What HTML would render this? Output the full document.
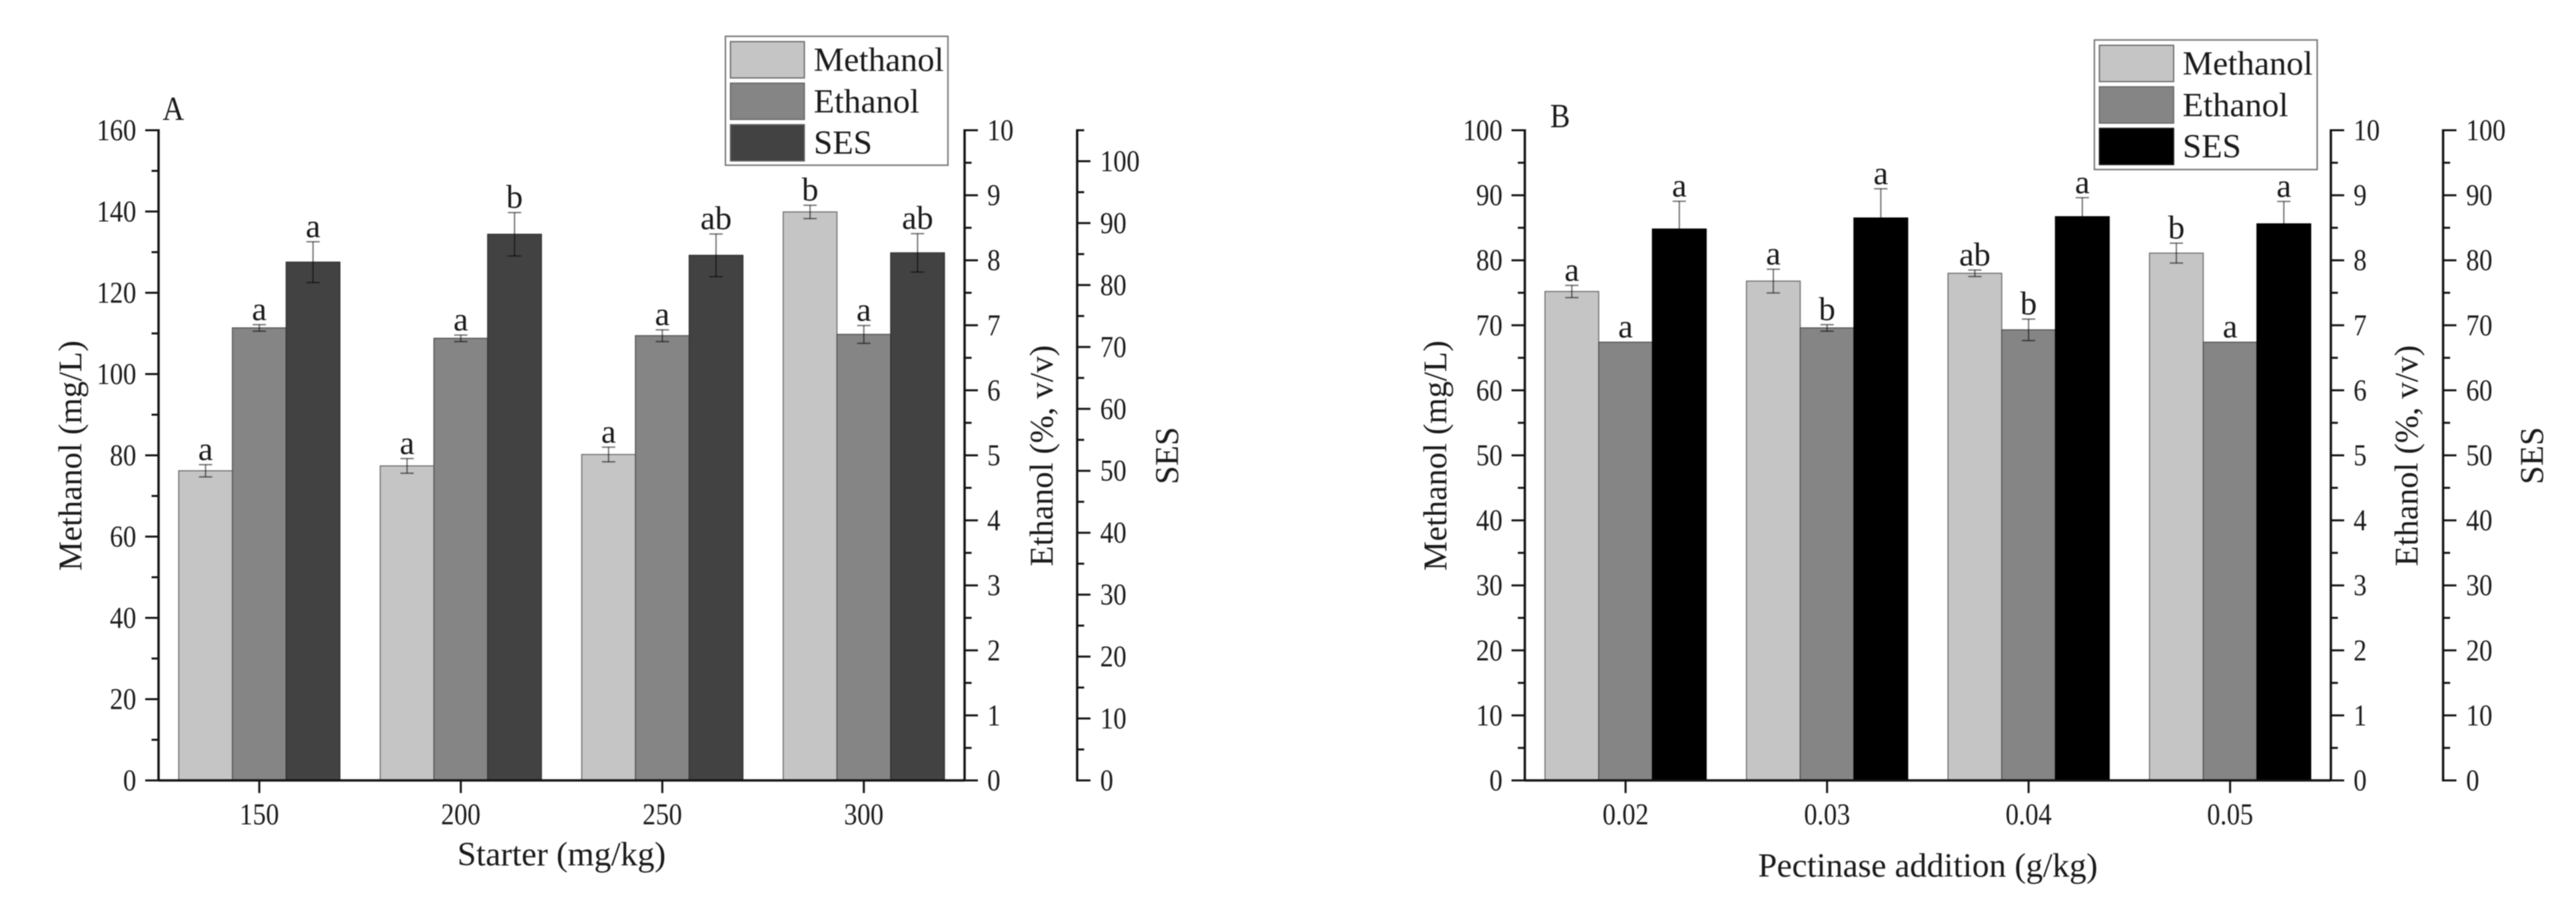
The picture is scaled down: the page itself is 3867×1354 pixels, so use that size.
<!DOCTYPE html>
<html>
<head>
<meta charset="utf-8">
<title>Methanol, Ethanol and SES charts</title>
<style>
html,body{margin:0;padding:0;background:#fff;}
svg{display:block;filter:blur(0.7px);}
text{font-family:"Liberation Serif",serif;fill:#1a1a1a;}
</style>
</head>
<body>
<svg id="figure" xmlns="http://www.w3.org/2000/svg" width="3867" height="1354" viewBox="0 0 3867 1354"></svg>
<script>
// Panel A data
const categoriesA = ['150','200','250','300'];
const methanolA = [76.2,77.4,80.2,139.9];
const methanolErrA = [1.5,1.8,1.8,1.64];
const ethanolA = [6.96,6.80,6.84,6.86];
const ethanolErrA = [0.05,0.05,0.09,0.137];
const sesA = [83.7,88.2,84.8,85.2];
const sesErrA = [3.3,3.5,3.45,3.1];
const methanolLettersA = ['a','a','a','b'];
const ethanolLettersA = ['a','a','a','a'];
const sesLettersA = ['a','b','ab','ab'];
const methanolTicksA = [0,20,40,60,80,100,120,140,160];
const ethanolTicksA = [0,1,2,3,4,5,6,7,8,9,10];
const sesTicksA = [0,10,20,30,40,50,60,70,80,90,100];

// Panel B data
const categoriesB = ['0.02','0.03','0.04','0.05'];
const methanolB = [75.2,76.8,78.0,81.1];
const methanolErrB = [0.94,1.83,0.5,1.53];
const ethanolB = [6.74,6.96,6.93,6.74];
const ethanolErrB = [0,0.05,0.165,0];
const sesB = [84.8,86.5,86.7,85.6];
const sesErrB = [4.28,4.5,2.92,3.45];
const methanolLettersB = ['a','a','ab','b'];
const ethanolLettersB = ['a','b','b','a'];
const sesLettersB = ['a','a','a','a'];
const methanolTicksB = [0,10,20,30,40,50,60,70,80,90,100];
const ethanolTicksB = [0,1,2,3,4,5,6,7,8,9,10];
const sesTicksB = [0,10,20,30,40,50,60,70,80,90,100];

const seriesNames = ['Methanol','Ethanol','SES'];

const NS = 'http://www.w3.org/2000/svg';
const svg = document.getElementById('figure');
const TOP = 195.5, BOTTOM = 1171.5;

function mk(tag, parent, attrs){
  const e = document.createElementNS(NS, tag);
  for (const k in attrs) e.setAttribute(k, attrs[k]);
  parent.appendChild(e);
  return e;
}
function txt(parent, str, x, y, size, anchor, sx, rot){
  const e = mk('text', parent, {
    'font-size': size,
    'text-anchor': anchor,
    transform: 'translate(' + x + ' ' + y + ')' + (rot ? ' rotate(' + rot + ')' : '') + (sx !== 1 ? ' scale(' + sx + ' 1)' : '')
  });
  e.textContent = str;
  return e;
}
function yScale(max){
  return function(v){ return BOTTOM - (v / max) * (BOTTOM - TOP); };
}
function line(parent, x1, y1, x2, y2, color, w){
  return mk('line', parent, {x1:x1, y1:y1, x2:x2, y2:y2, stroke:color, 'stroke-width':w});
}

function drawAxis(parent, label, x, max, ticks, minorStep, side, labelX, titleX, title){
  const y = yScale(max);
  const g = mk('g', parent, {});
  
  
  const spine = line(g, x, TOP - 1.5, x, BOTTOM + 1.5, '#111', 3.5);
  
  
  const count = Math.round(max / minorStep);
  for (let i = 0; i <= count; i++){
    const v = i * minorStep;
    const isMajor = ticks.indexOf(+v.toFixed(4)) >= 0;
    const len = isMajor ? 20 : 10.5;
    const t = line(g, x, y(v), x + side * len, y(v), '#111', 3);
    
    
  }
  ticks.forEach(function(v){
    const lab = txt(g, String(v), labelX, y(v) + 15, 45, side < 0 ? 'end' : 'start', 0.88, 0);
    
    
  });
  const tt = txt(g, title, titleX, 684, 50, 'middle', 1, -90);
  
  
}

function drawChart(p){
  const root = mk('g', svg, {});
  
  

  const band = (p.right - p.left) / p.categories.length;
  const barW = band * 0.8 / 3;
  const xCenter = function(i){ return p.left + band * (i + 0.5); };
  const scales = [yScale(p.methMax), yScale(p.ethMax), yScale(p.sesMax)];
  const fills = ['#c5c5c5', '#858585', p.sesFill];
  const edges = ['#6e6e6e', '#555', p.sesFill === '#000' ? '#000' : '#333'];

  p.categories.forEach(function(cat, i){
    const group = mk('g', root, {});
    
    
    p.values.forEach(function(vals, s){
      const bx = xCenter(i) + (s - 1.5) * barW;
      const top = scales[s](vals[i]);
      const bar = mk('rect', group, {x:bx, y:top, width:barW, height:BOTTOM - top, fill:fills[s], stroke:edges[s], 'stroke-width':1.6});
      
      
    });
    p.values.forEach(function(vals, s){
      const cx = xCenter(i) + (s - 1) * barW;
      const hi = scales[s](vals[i] + p.errors[s][i]);
      const lo = scales[s](vals[i] - p.errors[s][i]);
      if (p.errors[s][i] > 0){
        const stem = line(group, cx, hi, cx, lo, 'rgba(0,0,0,0.55)', 2);
        
        
        const capT = line(group, cx - 10, hi, cx + 10, hi, 'rgba(0,0,0,0.55)', 2);
        
        
        const capB = line(group, cx - 10, lo, cx + 10, lo, 'rgba(0,0,0,0.55)', 2);
        
        
      }
      const letter = txt(group, p.letters[s][i], cx, hi - 7, 50, 'middle', 1, 0);
      
      
    });
    const tick = line(group, xCenter(i), BOTTOM, xCenter(i), BOTTOM + 19, '#111', 3);
    
    
    const lab = txt(group, cat, xCenter(i), 1237.5, 45, 'middle', 0.88, 0);
    
    
  });

  const baseline = line(root, p.left, BOTTOM, p.right, BOTTOM, '#111', 3.5);
  
  

  const xt = txt(root, p.xTitle, p.xTitleX, p.xTitleY, 51, 'middle', 1, 0);
  
  

  const letterMark = txt(root, p.panel, p.panelX, p.panelY, 51, 'start', 0.88, 0);
  
  

  drawAxis(root, 'methanol', p.left, p.methMax, p.methTicks, p.methMinor, -1, p.left - 33.5, p.methTitleX, 'Methanol (mg/L)');
  drawAxis(root, 'ethanol', p.right, p.ethMax, p.ethTicks, 0.5, 1, p.right + 34, p.ethTitleX, 'Ethanol (%, v/v)');
  drawAxis(root, 'ses', p.sesX, p.sesMax, p.sesTicks, 5, 1, p.sesX + 34.5, p.sesTitleX, 'SES');

  const legend = mk('g', root, {});
  
  
  const L = p.legend;
  const box = mk('rect', legend, {x:L.x, y:L.y, width:L.w, height:L.h, fill:'#fff', stroke:'#777', 'stroke-width':2.2});
  
  
  seriesNames.forEach(function(name, s){
    const sy = L.y + 8 + s * 62.3;
    const sw = mk('rect', legend, {x:L.x + 7.5, y:sy, width:L.swW, height:54.5, fill:fills[s], stroke:s === 2 && p.sesFill === '#000' ? '#222' : '#666', 'stroke-width':1.8});
    
    
    const lt = txt(legend, name, L.x + L.textDX, sy + 44, 51, 'start', 1, 0);
    
    
  });
}

drawChart({
  id:'chart-a', panel:'A', panelX:244, panelY:180,
  left:238, right:1448, sesX:1617,
  methMax:160, ethMax:10, sesMax:105, methMinor:10,
  categories:categoriesA,
  values:[methanolA, ethanolA, sesA],
  errors:[methanolErrA, ethanolErrA, sesErrA],
  letters:[methanolLettersA, ethanolLettersA, sesLettersA],
  methTicks:methanolTicksA, ethTicks:ethanolTicksA, sesTicks:sesTicksA,
  sesFill:'#424242',
  xTitle:'Starter (mg/kg)', xTitleX:843, xTitleY:1299,
  methTitleX:122, ethTitleX:1580, sesTitleX:1768,
  legend:{x:1089, y:54.5, w:334, h:193.5, swW:111, textDX:132.5}
});
drawChart({
  id:'chart-b', panel:'B', panelX:2327, panelY:191,
  left:2289, right:3499, sesX:3667.5,
  methMax:100, ethMax:10, sesMax:100, methMinor:5,
  categories:categoriesB,
  values:[methanolB, ethanolB, sesB],
  errors:[methanolErrB, ethanolErrB, sesErrB],
  letters:[methanolLettersB, ethanolLettersB, sesLettersB],
  methTicks:methanolTicksB, ethTicks:ethanolTicksB, sesTicks:sesTicksB,
  sesFill:'#000',
  xTitle:'Pectinase addition (g/kg)', xTitleX:2894, xTitleY:1316,
  methTitleX:2171, ethTitleX:3629, sesTitleX:3817,
  legend:{x:3144, y:60, w:334.5, h:194.5, swW:111.5, textDX:132.5}
});
</script>
</body>
</html>
